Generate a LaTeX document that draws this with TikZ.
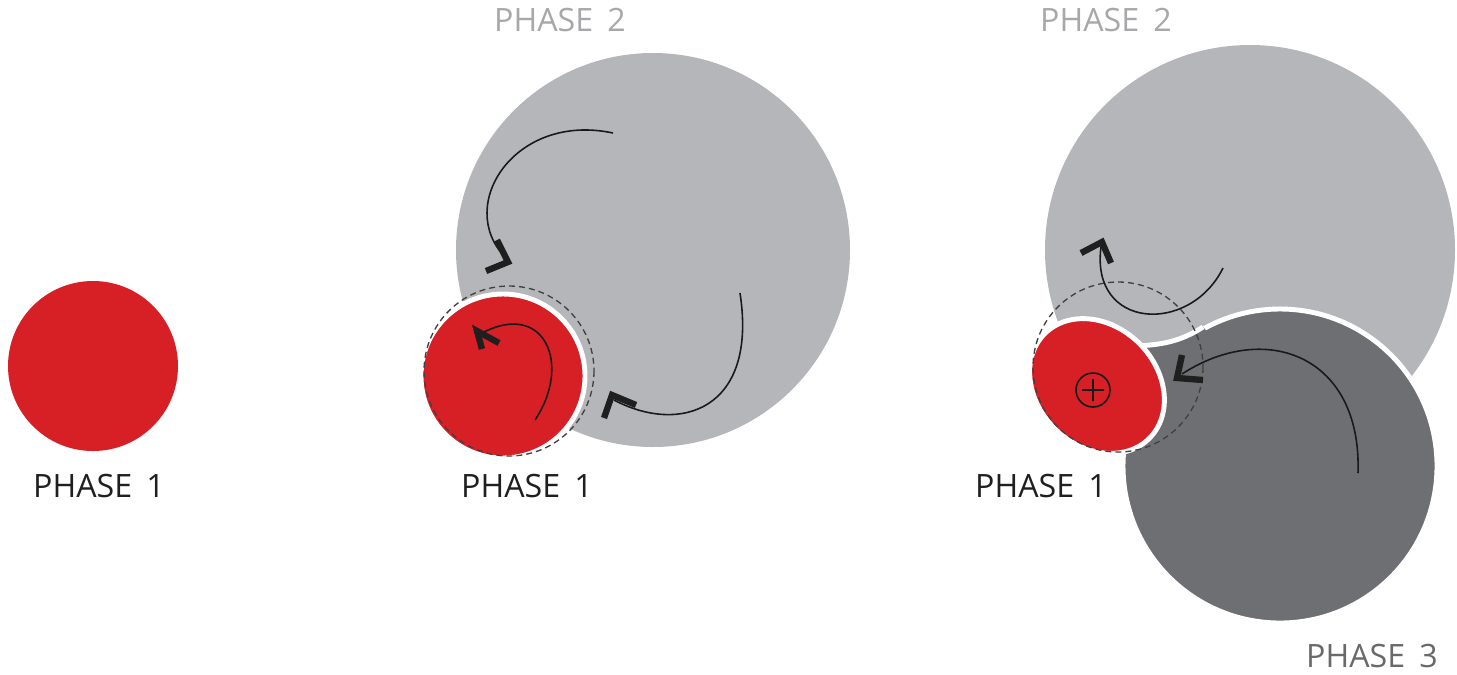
\documentclass[tikz,border=0pt]{standalone}
\usepackage{fontspec}
\setmainfont{Open Sans}[WordSpace=1.7]
\definecolor{phase_red}{RGB}{215, 31, 38}
\definecolor{phase_light}{RGB}{181, 182, 186}
\definecolor{phase_dark}{RGB}{110, 111, 115}
\definecolor{label_gray}{RGB}{168, 168, 171}
\definecolor{label_dark}{RGB}{105, 105, 108}

\begin{document}
\begin{tikzpicture}[x=0.02cm, y=-0.02cm,
  phaselabel/.style={font=\fontsize{18.3}{22}\selectfont, text=black!88},
  seam/.style={draw=white, line width=2.8pt},
  dashring/.style={draw=black!75, line width=0.75pt, dash pattern=on 3.4pt off 2.3pt},
  flow/.style={draw=black!90, line width=0.9pt},
  chevron/.style={draw=black!88, line width=3.6pt, line join=miter}]
\useasboundingbox (0,0) rectangle (1457,674);

% phase 1 on its own
\fill[phase_red] (93,366) circle[radius=85];
\node[phaselabel] (p1a) at (99,486) {PHASE 1};

% phase 1 inside phase 2
\fill[phase_light] (653,250) circle[radius=197];
\filldraw[phase_red, seam] (503,376) circle[radius=82];
\draw[dashring] (509,371) circle[radius=85];
\draw[flow] (613,133) .. controls (515,112) and (455,205) .. (505,257);
\draw[chevron] (497,240) -- (508,262) -- (486,271);
\draw[flow] (740,293) .. controls (758,410) and (680,435) .. (614,400);
\draw[chevron] (636,405) -- (612,395) -- (604,418);
\draw[flow] (535,420) .. controls (572,365) and (545,300) .. (482,333);
\draw[chevron] (499,343) -- (477,331) -- (482,349);
\node[phaselabel, text=label_gray] (p2b) at (560,20) {PHASE 2};
\node[phaselabel] (p1b) at (527,486) {PHASE 1};

% phase 1, 2 and 3
\fill[phase_light] (1250,250) circle[radius=205];
\filldraw[phase_dark, seam] (1280,466) circle[radius=157];
\fill[phase_dark] (1135,346) .. controls (1160,345) and (1180,342) .. (1203,327)
  -- (1250,380) -- (1135,455) -- (1100,400) -- cycle;
\draw[seam] (1135,346) .. controls (1160,345) and (1180,342) .. (1203,327);
\filldraw[phase_red, seam, rotate around={-45:(1097,386)}]
  (1097,386) ellipse[x radius=74, y radius=60];
\draw[dashring] (1118,367) circle[radius=85];
\draw[black!90, line width=0.9pt] (1093,390) circle[radius=17]
  (1082,390) -- (1104,390) (1093,379) -- (1093,401);
\draw[flow] (1223,268) .. controls (1190,335) and (1090,330) .. (1101,247);
\draw[chevron] (1081,253) -- (1102,242) -- (1111,263);
\draw[flow] (1358,473) .. controls (1362,355) and (1265,320) .. (1182,374);
\draw[chevron] (1182,355) -- (1177,378) -- (1203,380);
\node[phaselabel, text=label_gray] (p2c) at (1106,20) {PHASE 2};
\node[phaselabel] (p1c) at (1041,486) {PHASE 1};
\node[phaselabel, text=label_dark] (p3c) at (1372,656) {PHASE 3};
\end{tikzpicture}
\end{document}
